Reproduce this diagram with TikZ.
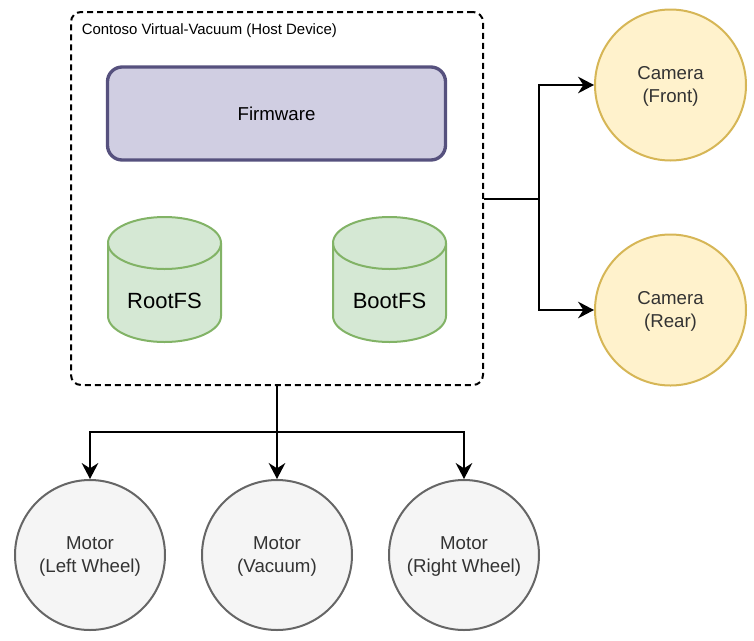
\documentclass[tikz,border=0pt]{standalone}
\usepackage{fontspec}
\setmainfont{Liberation Sans}
\usetikzlibrary{arrows.meta}
\definecolor{grayfill}{HTML}{F5F5F5}
\definecolor{graystroke}{HTML}{666666}
\definecolor{graytext}{HTML}{333333}
\definecolor{camfill}{HTML}{FFF2CC}
\definecolor{camstroke}{HTML}{D6B656}
\definecolor{fwfill}{HTML}{D0CEE2}
\definecolor{fwstroke}{HTML}{56517E}
\definecolor{cylfill}{HTML}{D5E8D4}
\definecolor{cylstroke}{HTML}{82B366}
\tikzset{
  hostbox/.style={draw=black, line width=1.5pt, dash pattern=on 4.5pt off 3pt, rounded corners=7.5pt, minimum width=309pt, minimum height=279.75pt, inner sep=0pt},
  fwbox/.style={draw=fwstroke, fill=fwfill, line width=2.5pt, rounded corners=11pt, minimum width=253.5pt, minimum height=69.75pt, font=\fontsize{14}{17}\selectfont},
  cylst/.style={draw=cylstroke, fill=cylfill, line width=1.5pt},
  cyltext/.style={font=\fontsize{16.5}{20}\selectfont, inner sep=0pt},
  camnode/.style={circle, draw=camstroke, fill=camfill, line width=1.5pt, minimum size=113.25pt, inner sep=0pt, align=center, text=graytext, font=\fontsize{14}{17.25}\selectfont},
  motnode/.style={circle, draw=graystroke, fill=grayfill, line width=1.5pt, minimum size=112.5pt, inner sep=0pt, align=center, text=graytext, font=\fontsize{14}{17.25}\selectfont},
  conn/.style={draw=black, line width=1.5pt, -{Stealth[length=12pt,width=12.5pt,inset=4pt]}},
}
\begin{document}
\begin{tikzpicture}[x=0.75pt, y=0.75pt]
\useasboundingbox (0,0) rectangle (754,-640);
% host
\node[hostbox] (host) at (277,-198.5) {};
\node[anchor=west, inner sep=0pt, font=\fontsize{11.2}{13}\selectfont] (title) at (81.5,-31) {Contoso Virtual-Vacuum (Host Device)};
% firmware
\node[fwbox] (fw) at (276.5,-113.5) {Firmware};
% cylinders
\foreach \cx/\nm/\lbl in {164.5/rootfs/RootFS, 389.5/bootfs/BootFS}{
  \path[cylst] (\cx-56.5,-243) -- (\cx-56.5,-316) arc[start angle=180, end angle=360, x radius=42.375pt, y radius=19.5pt] -- (\cx+56.5,-243) arc[start angle=0, end angle=180, x radius=42.375pt, y radius=19.5pt] -- cycle;
  \draw[draw=cylstroke, line width=1.5pt] (\cx-56.5,-243) arc[start angle=180, end angle=360, x radius=42.375pt, y radius=19.5pt];
  \node[cyltext] (\nm) at (\cx,-301) {\lbl};
}
% cameras
\node[camnode] (camF) at (670.5,-85) {\strut Camera\\(Front)};
\node[camnode] (camR) at (670.5,-310) {\strut Camera\\(Rear)};
% motors
\node[motnode] (mL) at (90,-555) {\strut Motor\\(Left Wheel)};
\node[motnode] (mV) at (277,-555) {\strut Motor\\(Vacuum)};
\node[motnode] (mR) at (464,-555) {\strut Motor\\(Right Wheel)};
% connectors
\coordinate (jr) at (539,-198.5);
\coordinate (jb) at (277,-432);
\draw[conn] (host.east) -- (jr) |- (camF.west);
\draw[conn] (host.east) -- (jr) |- (camR.west);
\draw[conn] (host.south) -- (mV.north);
\draw[conn] (host.south) -- (jb) -| (mL.north);
\draw[conn] (host.south) -- (jb) -| (mR.north);
\end{tikzpicture}
\end{document}
